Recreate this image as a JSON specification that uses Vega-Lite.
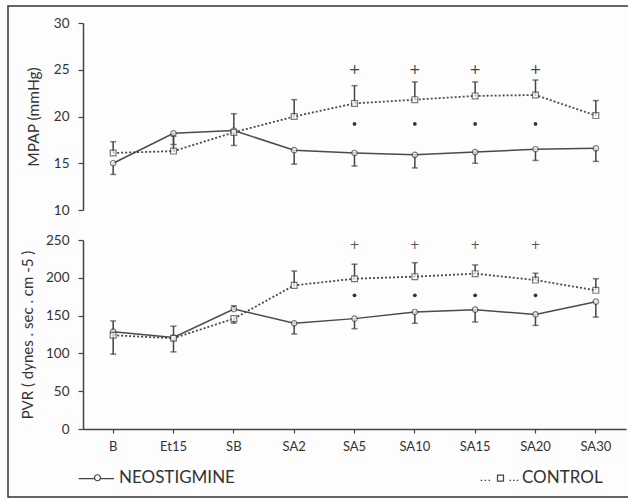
{
  "$schema": "https://vega.github.io/schema/vega-lite/v6.json",
  "autosize": {"type": "none"},
  "padding": {"left": 8, "top": 6, "right": 0, "bottom": 2},
  "width": 622,
  "height": 491,
  "background": "#fdfdfd",
  "config": {
    "view": {"stroke": "#333", "strokeWidth": 1.5},
    "font": "Lato",
    "axis": {"grid": false, "labelFont": "Lato", "titleFont": "Lato", "labelColor": "#333", "titleColor": "#333", "domainColor": "#444", "tickColor": "#444", "domainWidth": 1.5, "tickWidth": 1.2, "titleFontWeight": "normal"}
  },
  "datasets": {
    "main": [
      {"time": "B", "group": "NEOSTIGMINE", "mpap": 15.0, "mpapErr": 13.8, "pvr": 128.7, "pvrErr": 99},
      {"time": "Et15", "group": "NEOSTIGMINE", "mpap": 18.2, "mpapErr": 17.0, "pvr": 121, "pvrErr": 102},
      {"time": "SB", "group": "NEOSTIGMINE", "mpap": 18.5, "mpapErr": 16.9, "pvr": 158.7, "pvrErr": 163},
      {"time": "SA2", "group": "NEOSTIGMINE", "mpap": 16.4, "mpapErr": 14.9, "pvr": 139.8, "pvrErr": 125.7},
      {"time": "SA5", "group": "NEOSTIGMINE", "mpap": 16.1, "mpapErr": 14.7, "pvr": 146, "pvrErr": 132.7},
      {"time": "SA10", "group": "NEOSTIGMINE", "mpap": 15.9, "mpapErr": 14.5, "pvr": 154.8, "pvrErr": 139.8},
      {"time": "SA15", "group": "NEOSTIGMINE", "mpap": 16.2, "mpapErr": 15.0, "pvr": 157.8, "pvrErr": 141.5},
      {"time": "SA20", "group": "NEOSTIGMINE", "mpap": 16.5, "mpapErr": 15.3, "pvr": 151.6, "pvrErr": 137},
      {"time": "SA30", "group": "NEOSTIGMINE", "mpap": 16.6, "mpapErr": 15.2, "pvr": 168.4, "pvrErr": 148},
      {"time": "B", "group": "CONTROL", "mpap": 16.1, "mpapErr": 17.3, "pvr": 124, "pvrErr": 143},
      {"time": "Et15", "group": "CONTROL", "mpap": 16.3, "mpapErr": 17.9, "pvr": 120, "pvrErr": 136},
      {"time": "SB", "group": "CONTROL", "mpap": 18.3, "mpapErr": 20.3, "pvr": 146, "pvrErr": 140},
      {"time": "SA2", "group": "CONTROL", "mpap": 20.0, "mpapErr": 21.8, "pvr": 190, "pvrErr": 209},
      {"time": "SA5", "group": "CONTROL", "mpap": 21.4, "mpapErr": 23.3, "pvr": 198.8, "pvrErr": 218},
      {"time": "SA10", "group": "CONTROL", "mpap": 21.8, "mpapErr": 23.7, "pvr": 201.5, "pvrErr": 220},
      {"time": "SA15", "group": "CONTROL", "mpap": 22.2, "mpapErr": 23.7, "pvr": 205.5, "pvrErr": 217},
      {"time": "SA20", "group": "CONTROL", "mpap": 22.3, "mpapErr": 23.9, "pvr": 197, "pvrErr": 206},
      {"time": "SA30", "group": "CONTROL", "mpap": 20.1, "mpapErr": 21.7, "pvr": 183.4, "pvrErr": 198.8}
    ],
    "sig": [
      {"time": "SA5", "mpapPlus": 25, "mpapDot": 19.2, "pvrPlus": 243, "pvrDot": 176.8},
      {"time": "SA10", "mpapPlus": 25, "mpapDot": 19.2, "pvrPlus": 243, "pvrDot": 176.8},
      {"time": "SA15", "mpapPlus": 25, "mpapDot": 19.2, "pvrPlus": 243, "pvrDot": 176.8},
      {"time": "SA20", "mpapPlus": 25, "mpapDot": 19.2, "pvrPlus": 243, "pvrDot": 176.8}
    ]
  },
  "layer": [
    {
      "layer": [
        {
          "data": {"name": "main"},
          "transform": [{"filter": "datum.group == 'NEOSTIGMINE'"}],
          "mark": {"type": "line", "color": "#4a4a4a", "strokeWidth": 1.5},
          "encoding": {
            "x": {"field": "time", "type": "nominal", "scale": {"type": "band", "domain": ["B", "Et15", "SB", "SA2", "SA5", "SA10", "SA15", "SA20", "SA30"], "range": [75, 618], "paddingInner": 0, "paddingOuter": 0}, "axis": {"title": null, "labelFontSize": 13, "labelAngle": 0, "tickSize": 4, "labelPadding": 7, "offset": -68, "bandPosition": 0.5}},
            "y": {"field": "mpap", "type": "quantitative", "scale": {"domain": [10, 30], "range": [204, 17], "zero": false, "nice": false}, "axis": {"title": "MPAP (mmHg)", "values": [10, 15, 20, 25, 30], "orient": "left", "offset": -75, "tickSize": 5, "labelPadding": 9, "labelFontSize": 13.5, "titleFontSize": 15.5, "titlePadding": 12}}
          }
        },
        {
          "data": {"name": "main"},
          "transform": [{"filter": "datum.group == 'CONTROL'"}],
          "mark": {"type": "line", "color": "#4a4a4a", "strokeWidth": 1.8, "strokeDash": [2, 2]},
          "encoding": {
            "x": {"field": "time", "type": "nominal"},
            "y": {"field": "mpap", "type": "quantitative"}
          }
        },
        {
          "data": {"name": "main"},
          "mark": {"type": "rule", "color": "#444", "strokeWidth": 1.5},
          "encoding": {
            "x": {"field": "time", "type": "nominal"},
            "y": {"field": "mpap", "type": "quantitative"},
            "y2": {"field": "mpapErr"}
          }
        },
        {
          "data": {"name": "main"},
          "mark": {"type": "tick", "color": "#444", "thickness": 1.5, "size": 6, "orient": "horizontal"},
          "encoding": {
            "x": {"field": "time", "type": "nominal"},
            "y": {"field": "mpapErr", "type": "quantitative"}
          }
        },
        {
          "data": {"name": "main"},
          "transform": [{"filter": "datum.group == 'NEOSTIGMINE'"}],
          "mark": {"type": "point", "shape": "circle", "size": 30, "filled": true, "fill": "white", "stroke": "#444", "strokeWidth": 1.2},
          "encoding": {
            "x": {"field": "time", "type": "nominal"},
            "y": {"field": "mpap", "type": "quantitative"}
          }
        },
        {
          "data": {"name": "main"},
          "transform": [{"filter": "datum.group == 'CONTROL'"}],
          "mark": {"type": "point", "shape": "square", "size": 34, "filled": true, "fill": "white", "stroke": "#444", "strokeWidth": 1.2},
          "encoding": {
            "x": {"field": "time", "type": "nominal"},
            "y": {"field": "mpap", "type": "quantitative"}
          }
        },
        {
          "data": {"name": "sig"},
          "mark": {"type": "text", "text": "+", "fontSize": 14, "color": "#444", "baseline": "middle", "font": "DejaVu Sans"},
          "encoding": {
            "x": {"field": "time", "type": "nominal"},
            "y": {"field": "mpapPlus", "type": "quantitative"}
          }
        },
        {
          "data": {"name": "sig"},
          "mark": {"type": "point", "shape": "circle", "size": 14, "filled": true, "color": "#333", "opacity": 1},
          "encoding": {
            "x": {"field": "time", "type": "nominal"},
            "y": {"field": "mpapDot", "type": "quantitative"}
          }
        }
      ]
    },
    {
      "layer": [
        {
          "data": {"name": "main"},
          "transform": [{"filter": "datum.group == 'NEOSTIGMINE'"}],
          "mark": {"type": "line", "color": "#4a4a4a", "strokeWidth": 1.5},
          "encoding": {
            "x": {"field": "time", "type": "nominal"},
            "y": {"field": "pvr", "type": "quantitative", "scale": {"domain": [0, 250], "range": [423, 234], "nice": false}, "axis": {"title": "PVR ( dynes . sec . cm -5 )", "values": [0, 50, 100, 150, 200, 250], "orient": "left", "offset": -75, "tickSize": 5, "labelPadding": 9, "labelFontSize": 13.5, "titleFontSize": 15, "titlePadding": 10}}
          }
        },
        {
          "data": {"name": "main"},
          "transform": [{"filter": "datum.group == 'CONTROL'"}],
          "mark": {"type": "line", "color": "#4a4a4a", "strokeWidth": 1.8, "strokeDash": [2, 2]},
          "encoding": {
            "x": {"field": "time", "type": "nominal"},
            "y": {"field": "pvr", "type": "quantitative"}
          }
        },
        {
          "data": {"name": "main"},
          "mark": {"type": "rule", "color": "#444", "strokeWidth": 1.5},
          "encoding": {
            "x": {"field": "time", "type": "nominal"},
            "y": {"field": "pvr", "type": "quantitative"},
            "y2": {"field": "pvrErr"}
          }
        },
        {
          "data": {"name": "main"},
          "mark": {"type": "tick", "color": "#444", "thickness": 1.5, "size": 6, "orient": "horizontal"},
          "encoding": {
            "x": {"field": "time", "type": "nominal"},
            "y": {"field": "pvrErr", "type": "quantitative"}
          }
        },
        {
          "data": {"name": "main"},
          "transform": [{"filter": "datum.group == 'NEOSTIGMINE'"}],
          "mark": {"type": "point", "shape": "circle", "size": 30, "filled": true, "fill": "white", "stroke": "#444", "strokeWidth": 1.2},
          "encoding": {
            "x": {"field": "time", "type": "nominal"},
            "y": {"field": "pvr", "type": "quantitative"}
          }
        },
        {
          "data": {"name": "main"},
          "transform": [{"filter": "datum.group == 'CONTROL'"}],
          "mark": {"type": "point", "shape": "square", "size": 34, "filled": true, "fill": "white", "stroke": "#444", "strokeWidth": 1.2},
          "encoding": {
            "x": {"field": "time", "type": "nominal"},
            "y": {"field": "pvr", "type": "quantitative"}
          }
        },
        {
          "data": {"name": "sig"},
          "mark": {"type": "text", "text": "+", "fontSize": 12, "color": "#555", "baseline": "middle", "font": "DejaVu Sans"},
          "encoding": {
            "x": {"field": "time", "type": "nominal"},
            "y": {"field": "pvrPlus", "type": "quantitative"}
          }
        },
        {
          "data": {"name": "sig"},
          "mark": {"type": "point", "shape": "circle", "size": 14, "filled": true, "color": "#333", "opacity": 1},
          "encoding": {
            "x": {"field": "time", "type": "nominal"},
            "y": {"field": "pvrDot", "type": "quantitative"}
          }
        },
        {
          "data": {"name": "main"},
          "mark": {"type": "point", "opacity": 0, "filled": false, "color": "#444"},
          "encoding": {
            "x": {"field": "time", "type": "nominal"},
            "y": {"field": "pvr", "type": "quantitative"},
            "shape": {
              "field": "group", "type": "nominal",
              "scale": {"domain": ["NEOSTIGMINE", "CONTROL"], "range": ["M-6.3,0.3H-1M1,0.3H5.5M1,0A1,1 0 1,1 -1,0A1,1 0 1,1 1,0", "M-6.6,0.9H-6.1M-5.3,0.9H-4.8M-4,0.9H-3.5M3,0.9H3.5M4.2,0.9H4.7M5.4,0.9H5.9M-1,-0.9H1V1.1H-1Z"]},
              "legend": {"title": null, "orient": "none", "legendX": 81, "legendY": 463, "direction": "horizontal", "symbolSize": 36, "symbolOpacity": 1, "symbolStrokeColor": "#444", "symbolStrokeWidth": 1.2, "symbolFillColor": "white", "labelFont": "Lato", "labelFontSize": 17, "labelColor": "#333", "labelOffset": 13, "columnPadding": 243, "padding": 0}
            }
          }
        }
      ]
    }
  ],
  "resolve": {"scale": {"y": "independent"}, "axis": {"y": "independent"}}
}
